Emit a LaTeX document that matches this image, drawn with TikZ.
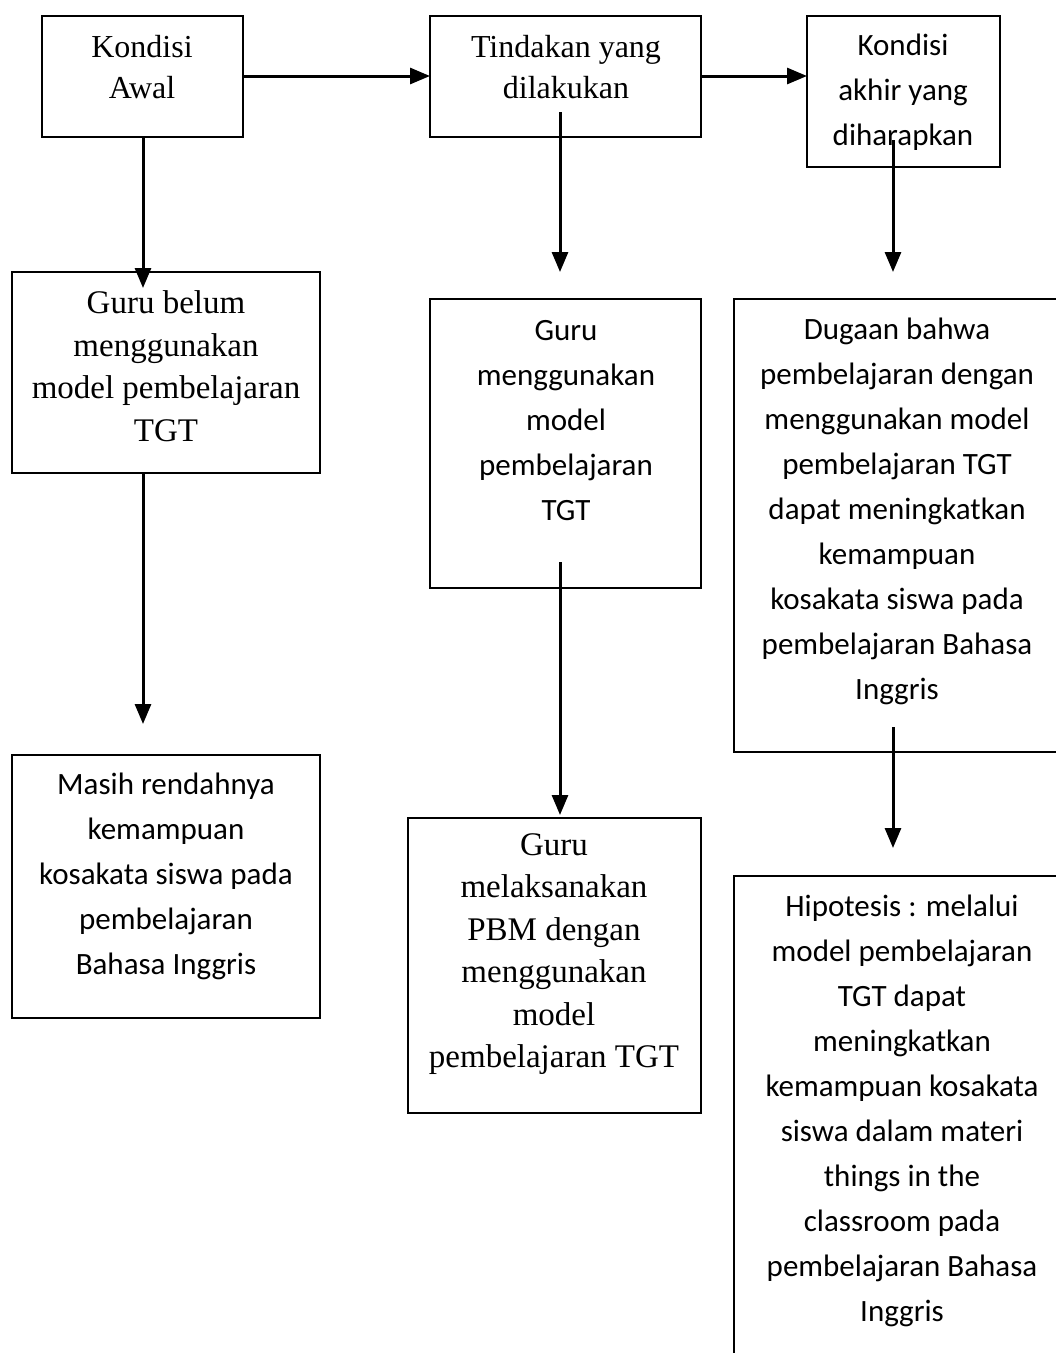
\documentclass[tikz,border=0pt]{standalone}
\usepackage{fontspec}
\usetikzlibrary{arrows.meta}
\newfontfamily\serfam{Liberation Serif}
\newfontfamily\sanfam{Carlito}
\begin{document}
\begin{tikzpicture}[x=1pt,y=-1pt,
  box/.style={draw,line width=2pt,inner sep=0pt,outer sep=0pt},
  sertext/.style={align=center,inner sep=0pt,font=\serfam\fontsize{33}{42.5}\selectfont},
  santext/.style={align=center,inner sep=0pt,font=\sanfam\fontsize{31}{45}\selectfont},
  arr/.style={line width=3pt,-{Triangle[width=16pt,length=20pt]}}]
\useasboundingbox (0,0) rectangle (1056,1353);
\clip (0,0) rectangle (1056,1353);
% boxes
\node[box,minimum width=201pt,minimum height=121pt] (b1) at (142.5,76.5) {};
\node[box,minimum width=271pt,minimum height=121pt] (b2) at (565.5,76.5) {};
\node[box,minimum width=193pt,minimum height=151pt] (b3) at (903.5,91.5) {};
\node[box,minimum width=308pt,minimum height=201pt] (b4) at (166,372.5) {};
\node[box,minimum width=308pt,minimum height=263pt] (b5) at (166,886.5) {};
\node[box,minimum width=271pt,minimum height=289pt] (b6) at (565.5,443.5) {};
\node[box,minimum width=293pt,minimum height=295pt] (b7) at (554.5,965.5) {};
\node[box,minimum width=336pt,minimum height=453pt] (b8) at (902,525.5) {};
\node[box,minimum width=336pt,minimum height=524pt] (b9) at (902,1138) {};
% texts
\node[sertext,font=\serfam\fontsize{32}{41}\selectfont] (t1) at (142,67.5) {Kondisi\\Awal};
\node[sertext,font=\serfam\fontsize{32}{41}\selectfont] (t2) at (566,67.5) {Tindakan yang\\dilakukan};
\node[santext] (t3) at (903,92) {Kondisi\\akhir yang\\diharapkan};
\node[sertext] (t4) at (166,366) {Guru belum\\menggunakan\\model pembelajaran\\TGT};
\node[santext] (t5) at (166,876) {Masih rendahnya\\kemampuan\\kosakata siswa pada\\pembelajaran\\Bahasa Inggris};
\node[santext] (t6) at (566,421) {Guru\\menggunakan\\model\\pembelajaran\\TGT};
\node[sertext] (t7) at (554,954) {Guru\\melaksanakan\\PBM dengan\\menggunakan\\model\\pembelajaran TGT};
\node[santext] (t8) at (897,511.5) {Dugaan bahwa\\pembelajaran dengan\\menggunakan model\\pembelajaran TGT\\dapat meningkatkan\\kemampuan\\kosakata siswa pada\\pembelajaran Bahasa\\Inggris};
\node[santext] (t9) at (902,1110.5) {Hipotesis : melalui\\model pembelajaran\\TGT dapat\\meningkatkan\\kemampuan kosakata\\siswa dalam materi\\things in the\\classroom pada\\pembelajaran Bahasa\\Inggris};
% connector end points
\coordinate (s1) at (143,137);
\coordinate (e1) at (143,288);
\coordinate (s4) at (143,473);
\coordinate (e4) at (143,724);
\coordinate (s2) at (560,112);
\coordinate (e2) at (560,272);
\coordinate (s6) at (560,562);
\coordinate (e6) at (560,815);
\coordinate (s3) at (893,140);
\coordinate (e3) at (893,272);
\coordinate (s8) at (893,727);
\coordinate (e8) at (893,848);
% connectors
\draw[arr] (b1.east |- 0,76) -- (b2.west |- 0,76);
\draw[arr] (b2.east |- 0,76) -- (b3.west |- 0,76);
\draw[arr] (s1) -- (e1);
\draw[arr] (s4) -- (e4);
\draw[arr] (s2) -- (e2);
\draw[arr] (s6) -- (e6);
\draw[arr] (s3) -- (e3);
\draw[arr] (s8) -- (e8);
\end{tikzpicture}
\end{document}
